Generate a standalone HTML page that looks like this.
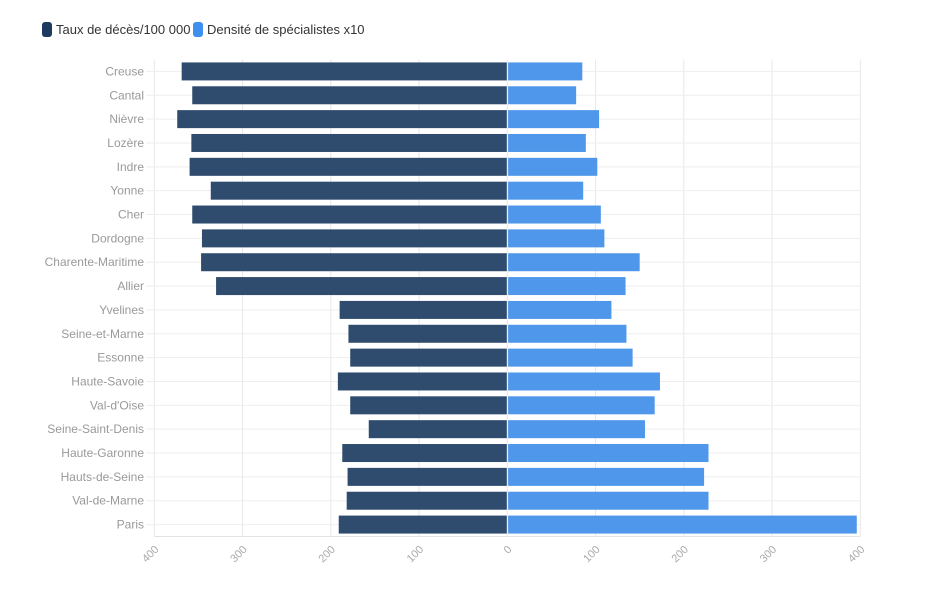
<!DOCTYPE html>
<html><head><meta charset="utf-8"><style>
body{margin:0;background:#fff;font-family:"Liberation Sans",sans-serif;}
svg text{font-family:"Liberation Sans",sans-serif;}
</style></head><body>
<svg id="chart" width="938" height="594">
<g>
 <g><rect x="42" y="22" width="10" height="15" rx="3" fill="#1e3a5f"/><text x="56" y="34" font-size="13" fill="#333">Taux de décès/100 000</text></g>
 <g><rect x="193" y="22" width="10" height="15" rx="3" fill="#3f8ff0"/><text x="207" y="34" font-size="13" fill="#333">Densité de spécialistes x10</text></g>
</g>
<g id="grid"></g>
<g id="bars"></g>
<g id="labels"></g>
</svg>
<script>
const categories=["Creuse","Cantal","Nièvre","Lozère","Indre","Yonne","Cher","Dordogne","Charente-Maritime","Allier","Yvelines","Seine-et-Marne","Essonne","Haute-Savoie","Val-d'Oise","Seine-Saint-Denis","Haute-Garonne","Hauts-de-Seine","Val-de-Marne","Paris"];
const deaths=[369,357,374,358,360,336,357,346,347,330,190,180,178,192,178,157,187,181,182,191];
const specialists=[85,78,104,89,102,86,106,110,150,134,118,135,142,173,167,156,228,223,228,396];
const ticks=[-400,-300,-200,-100,0,100,200,300,400];
const NS="http://www.w3.org/2000/svg";
const x0=507.3,k=0.8825,plotTop=59.5,band=23.85,bh=18;
const X=v=>x0+v*k, Y=i=>plotTop+band*i+band/2;
function mk(tag,attrs,parent){const e=document.createElementNS(NS,tag);for(const a in attrs)e.setAttribute(a,attrs[a]);parent.appendChild(e);return e;}
const grid=document.getElementById('grid'),bars=document.getElementById('bars'),labels=document.getElementById('labels');
ticks.forEach(t=>{
 const l=mk('line',{x1:X(t),x2:X(t),y1:plotTop,y2:plotTop+band*categories.length,stroke:'#e8e8e8'},grid);
 
 
 const tx=X(t)+5,ty=550;
 const s=mk('text',{x:tx,y:ty,'font-size':11,fill:'#aaa','text-anchor':'end',transform:`rotate(-45 ${tx} ${ty})`},labels);
 s.textContent=Math.abs(t);
 
 
});
mk('line',{x1:X(-400),x2:X(400),y1:plotTop+band*20,y2:plotTop+band*20,stroke:'#e3e3e3'},grid);
categories.forEach((c,i)=>{
 const y=Y(i);
 const g=mk('line',{x1:X(-400)-8,x2:X(400),y1:y,y2:y,stroke:'#eeeeee'},grid);
 
 
 const t=mk('text',{x:144,y:y+4,'font-size':12,fill:'#999','text-anchor':'end'},labels);
 t.textContent=c;
 
 
 const b1=mk('rect',{x:X(-deaths[i]),y:y-bh/2,width:deaths[i]*k-0.5,height:bh,fill:'#2f4b6e'},bars);
 
 
 const b2=mk('rect',{x:X(0)+0.8,y:y-bh/2,width:specialists[i]*k-0.8,height:bh,fill:'#4f97ea'},bars);
 
 
});
</script>
</body></html>
